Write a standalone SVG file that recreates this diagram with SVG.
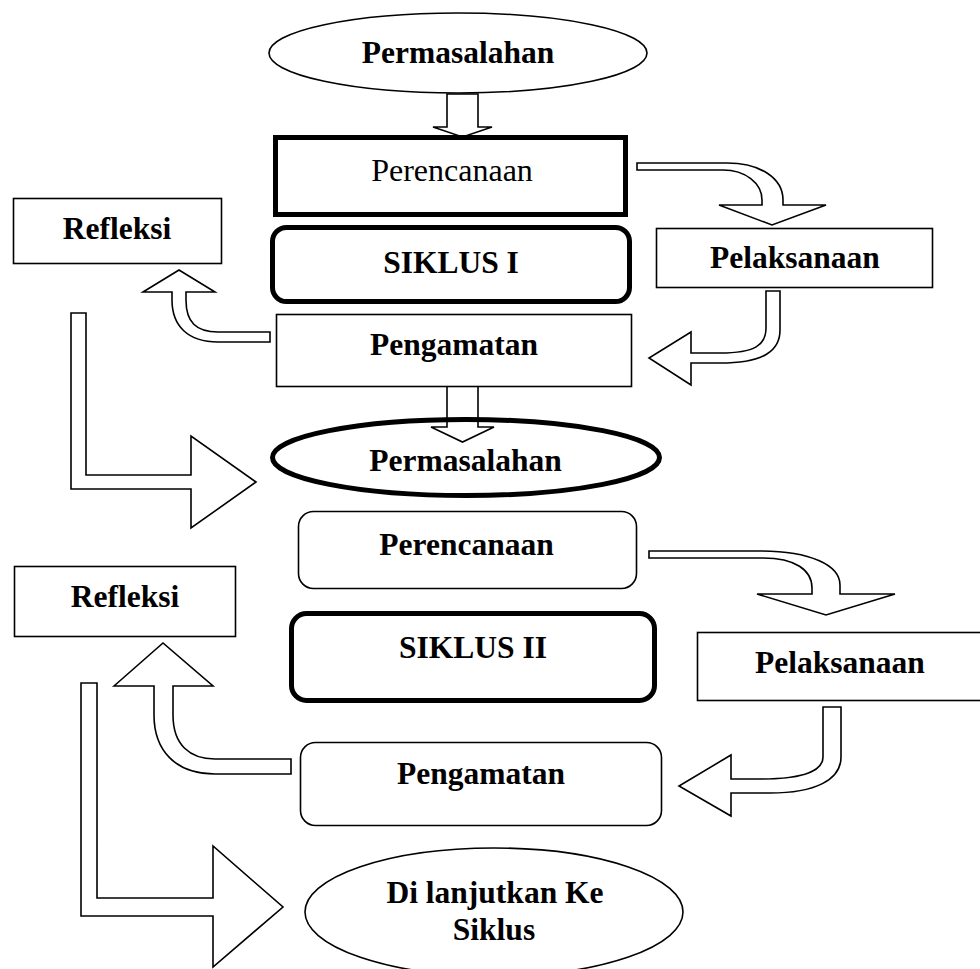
<svg xmlns="http://www.w3.org/2000/svg" width="980" height="969" viewBox="0 0 980 969">
<style>
.bg{fill:#fff}
.n{fill:#fff;stroke:#000;stroke-width:1.6}
.thick{fill:#fff;stroke:#000;stroke-width:5}
.open{fill:none;stroke:#000;stroke-width:5}
.a{fill:#fff;stroke:#000;stroke-width:1.6;stroke-linejoin:miter}
text{font-family:"Liberation Serif","Times New Roman",serif;font-size:31.5px;font-weight:bold;text-anchor:middle;fill:#000}
text.reg{font-weight:normal;font-size:32px}
</style>
<rect class="bg" x="0" y="0" width="980" height="969"/>
<g id="connectors">
<path class="a" d="M447,94 L478,94 L478,127 L492,127 L462.5,137 L433,127 L447,127 Z"/>
<path class="a" d="M447,386 L478,386 L478,427 L494,427 L462.5,442 L431,427 L447,427 Z"/>
<path class="a" d="M637,163 L727,163 C760,163 783,178 783,200 L783,205 L826,205 L772,225 L719,205 L762,205 L762,200 C762,183 745,170 723,170 L637,170 Z"/>
<path class="a" d="M766,291 L780,291 L780,330 C780,350 765,363 720,363 L691,363 L691,385 L649,358 L691,332 L691,353 L720,353 C755,353 766,345 766,328 Z"/>
<path class="a" d="M143,292 L179,270 L215,292 L186,292 L186,300 C186,322 196,332 218,332 L270,332 L270,342 L218,342 C188,342 172,326 172,300 L172,292 Z"/>
<path class="a" d="M71,313 L86,313 L86,475 L191,475 L191,436 L256,482 L191,528 L191,489 L71,489 Z"/>
<path class="a" d="M649,551 L760,551 C810,551 840,565 840,585 L840,594 L895,594 L826,615 L757,594 L812,594 L812,588 C812,570 795,558 763,558 L649,558 Z"/>
<path class="a" d="M823,707 L841,707 L841,757 C841,780 815,793 770,793 L731,793 L731,816 L679,786 L731,755 L731,779 L760,779 C805,779 823,770 823,757 Z"/>
<path class="a" d="M114,686 L163,643 L213,686 L173,686 L173,715 C173,745 190,759 215,759 L291,759 L291,774 L215,774 C175,774 154,750 154,715 L154,686 Z"/>
<path class="a" d="M81,683 L97,683 L97,898 L213,898 L213,846 L283,907 L213,967 L213,916 L81,916 Z"/>
</g>
<g id="permasalahan1">
<ellipse class="n" cx="458" cy="53" rx="189" ry="40"/>
<text x="458" y="63">Permasalahan</text>
</g>
<g id="perencanaan1">
<rect class="thick" x="275.5" y="137.5" width="350" height="77"/>
<text class="reg" x="452" y="181">Perencanaan</text>
</g>
<g id="siklus1">
<rect class="thick" x="272.5" y="227.5" width="357" height="74" rx="14"/>
<text x="451" y="273">SIKLUS I</text>
</g>
<g id="refleksi1">
<rect class="n" x="13.5" y="198.5" width="208" height="65"/>
<text x="117" y="239">Refleksi</text>
</g>
<g id="pelaksanaan1">
<rect class="n" x="656.5" y="228.5" width="276" height="59"/>
<text x="795" y="268">Pelaksanaan</text>
</g>
<g id="pengamatan1">
<rect class="n" x="276.5" y="314.5" width="355" height="72"/>
<text x="454" y="355">Pengamatan</text>
</g>
<g id="permasalahan2">
<ellipse class="open" cx="466" cy="457.5" rx="193.5" ry="38"/>
<text x="465.5" y="471">Permasalahan</text>
</g>
<g id="perencanaan2">
<rect class="n" x="298.5" y="511.5" width="338" height="77" rx="15"/>
<text x="466.5" y="555">Perencanaan</text>
</g>
<g id="refleksi2">
<rect class="n" x="14.5" y="566.5" width="221" height="70"/>
<text x="125" y="607">Refleksi</text>
</g>
<g id="siklus2">
<rect class="thick" x="291.5" y="613.5" width="363" height="87" rx="15"/>
<text x="473" y="658">SIKLUS II</text>
</g>
<g id="pelaksanaan2">
<rect class="n" x="697.5" y="632.5" width="290" height="68"/>
<text x="840" y="673">Pelaksanaan</text>
</g>
<g id="pengamatan2">
<rect class="n" x="300.5" y="742.5" width="361" height="83" rx="15"/>
<text x="481" y="784">Pengamatan</text>
</g>
<g id="lanjut">
<ellipse class="n" cx="494" cy="912" rx="189" ry="64"/>
<text x="495" y="903">Di lanjutkan Ke</text>
<text x="494" y="940">Siklus</text>
</g>
</svg>
